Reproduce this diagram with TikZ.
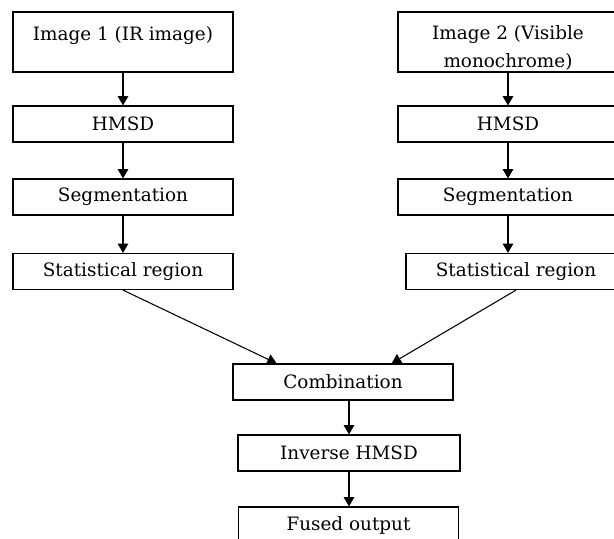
\documentclass[tikz,border=0pt]{standalone}
\usepackage{fontspec}
\setmainfont{DejaVu Serif}
\usetikzlibrary{positioning, arrows.meta, calc}

\begin{document}
\begin{tikzpicture}[x=0.75pt, y=-0.75pt,
  every node/.style={font=\fontsize{13.8}{21}\selectfont},
  stage/.style={draw, line width=0.9pt, minimum width=165pt, minimum height=27pt, inner sep=0pt},
  source/.style={stage, minimum height=45pt, align=center},
  flow/.style={-{Triangle[length=7pt,width=8pt]}, line width=0.8pt}]
  %% Page frame (right column runs off the edge)
  \useasboundingbox (0,0) rectangle (614,539);
  \clip (0,0) rectangle (614,539);

  %% Left branch: IR image
  \node[source] (img1) at (123,42) {\rule{0pt}{18pt}Image 1 (IR image)\\\mbox{}};
  \node[stage] (hmsd1) at (123,124) {HMSD};
  \node[stage] (seg1) at (123,197) {Segmentation};
  \node[stage] (stat1) at (123,271.5) {Statistical region};

  %% Right branch: visible image
  \node[source] (img2) at (508,42) {\rule{0pt}{19pt}Image 2 (Visible\\monochrome)};
  \node[stage] (hmsd2) at (508,124) {HMSD};
  \node[stage] (seg2) at (508,197) {Segmentation};
  \node[stage] (stat2) at (516,271.5) {Statistical region};

  %% Merge and reconstruction
  \node[stage] (comb) at (343,382) {Combination};
  \node[stage, minimum width=166.5pt] (inv) at (349,453) {Inverse HMSD};
  \node[stage] (fused) at (348.5,525) {Fused output};

  %% Arrows
  \draw[flow] (img1) -- (hmsd1);
  \draw[flow] (hmsd1) -- (seg1);
  \draw[flow] (seg1) -- (stat1);
  \draw[flow] (img2) -- (hmsd2);
  \draw[flow] (hmsd2) -- (seg2);
  \draw[flow] (seg2.south) -- (seg2.south |- stat2.north);
  \draw[flow] (stat1.south) -- ($(comb.north west)!0.2!(comb.north east)$);
  \draw[flow] (stat2.south) -- ($(comb.north west)!0.72!(comb.north east)$);
  \draw[flow] (inv.north |- comb.south) -- (inv.north);
  \draw[flow] (inv.south) -- (inv.south |- fused.north);
\end{tikzpicture}
\end{document}
